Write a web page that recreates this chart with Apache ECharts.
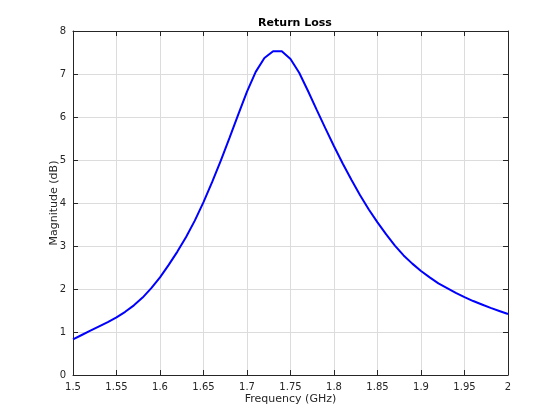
<!DOCTYPE html>
<html>
<head>
<meta charset="utf-8">
<script src="https://cdn.jsdelivr.net/npm/echarts@6/dist/echarts.min.js"></script>
<style>html,body{margin:0;padding:0;background:#fff;}#c{width:560px;height:420px;}</style>
</head>
<body>
<div id="c"></div>
<script>
const freqGHz = [1.50,1.51,1.52,1.53,1.54,1.55,1.56,1.57,1.58,1.59,1.60,1.61,1.62,1.63,1.64,1.65,1.66,1.67,1.68,1.69,1.70,1.71,1.72,1.73,1.74,1.75,1.76,1.77,1.78,1.79,1.80,1.81,1.82,1.83,1.84,1.85,1.86,1.87,1.88,1.89,1.90,1.91,1.92,1.93,1.94,1.95,1.96,1.97,1.98,1.99,2.00];
const magnitudeDb = [0.83,0.93,1.03,1.13,1.23,1.34,1.47,1.62,1.80,2.02,2.27,2.56,2.87,3.21,3.59,4.02,4.49,4.99,5.52,6.06,6.59,7.05,7.37,7.53,7.53,7.35,7.03,6.61,6.17,5.74,5.32,4.92,4.54,4.18,3.85,3.55,3.27,3.01,2.78,2.59,2.42,2.27,2.13,2.02,1.91,1.81,1.72,1.64,1.56,1.49,1.42];
const xTicks = [1.5,1.55,1.6,1.65,1.7,1.75,1.8,1.85,1.9,1.95,2];
const yTicks = [0,1,2,3,4,5,6,7,8];

const axisColor = '#262626';
const gridColor = '#dcdcdc';
const font = 'DejaVu Sans';
const chart = echarts.init(document.getElementById('c'), null, {renderer:'canvas'});
const baseAxis = {
  axisLine:{show:true,onZero:false,lineStyle:{color:axisColor,width:1}},
  axisTick:{show:true,inside:true,length:5,lineStyle:{color:axisColor}},
};
chart.setOption({
  animation:false,
  title:{text:'Return Loss',left:290,top:13,textAlign:'center',
    textStyle:{fontFamily:font,fontSize:11,fontWeight:'bold',color:'#000'}},
  grid:{left:73,right:52,top:31,bottom:45,containLabel:false},
  xAxis:[
    Object.assign({},baseAxis,{type:'value',min:1.5,max:2,interval:0.05,position:'bottom',
      name:'Frequency (GHz)',nameLocation:'middle',nameGap:19,nameMoveOverlap:false,
      nameTextStyle:{fontFamily:font,fontSize:11,color:axisColor},
      axisLabel:{fontFamily:font,fontSize:10,color:axisColor,margin:7,
        formatter:v=>{const t=xTicks.find(x=>Math.abs(x-v)<1e-6);return t===undefined?'':String(t);}},
      splitLine:{show:true,lineStyle:{color:gridColor,width:1}}}),
    Object.assign({},baseAxis,{type:'value',min:1.5,max:2,interval:0.05,position:'top',
      axisLabel:{show:false},splitLine:{show:false}})
  ],
  yAxis:[
    Object.assign({},baseAxis,{type:'value',min:0,max:8,interval:1,position:'left',
      name:'Magnitude (dB)',nameLocation:'middle',nameGap:13,nameRotate:90,nameMoveOverlap:false,
      nameTextStyle:{fontFamily:font,fontSize:11,color:axisColor},
      axisLabel:{fontFamily:font,fontSize:10,color:axisColor,margin:7,
        formatter:v=>{const t=yTicks.find(x=>Math.abs(x-v)<1e-6);return t===undefined?'':String(t);}},
      splitLine:{show:true,lineStyle:{color:gridColor,width:1}}}),
    Object.assign({},baseAxis,{type:'value',min:0,max:8,interval:1,position:'right',
      axisLabel:{show:false},splitLine:{show:false}})
  ],
  series:[{
    type:'line',xAxisIndex:0,yAxisIndex:0,
    data:freqGHz.map((f,i)=>[f,magnitudeDb[i]]),
    showSymbol:false,smooth:false,
    lineStyle:{color:'#0000ff',width:2},
    itemStyle:{color:'#0000ff'}
  }]
});
</script>
</body>
</html>
